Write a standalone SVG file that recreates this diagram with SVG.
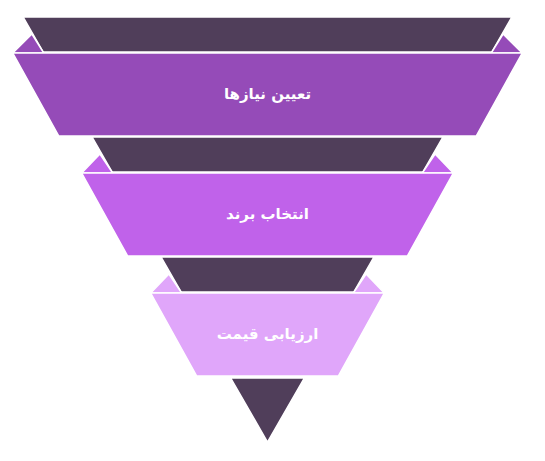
<svg xmlns="http://www.w3.org/2000/svg" width="545" height="461" viewBox="0 0 545 461">
<style>
.dark{fill:#503e5a;stroke:#ffffff;stroke-width:1.5;stroke-linejoin:miter}
.s{stroke:#ffffff;stroke-width:1.5;stroke-linejoin:miter}
.b1{fill:#954bb8}
.b2{fill:#c062ea}
.b3{fill:#e0a6fa}
.t{font-family:"DejaVu Sans",sans-serif;font-weight:bold;font-size:15px;fill:#ffffff;text-anchor:middle;dominant-baseline:central}
</style>
<rect width="545" height="461" fill="#ffffff"/>
<g id="funnel-dark">
<polygon class="dark" points="23.2,17 511.8,17 491.8,52 43.2,52"/>
<polygon class="dark" points="92.1,137 442.9,137 422.8,172 112.2,172"/>
<polygon class="dark" points="161.1,257 373.9,257 353.8,292 181.2,292"/>
<polygon id="tip" class="dark" points="230.7,378 304.3,378 267.5,442"/>
</g>
<g id="node1">
<polygon class="s b1" points="12.8,53 31.9,34 43.8,53"/>
<polygon class="s b1" points="522.2,53 503.1,34 491.2,53"/>
<polygon class="s b1" points="12.8,53 522.2,53 476.2,136 58.8,136"/>
<text class="t" x="267.5" y="93.5">تعیین نیازها</text>
</g>
<g id="node2">
<polygon class="s b2" points="81.7,173 99.9,154 112.7,173"/>
<polygon class="s b2" points="453.3,173 435.1,154 422.3,173"/>
<polygon class="s b2" points="81.7,173 453.3,173 407.3,256 127.7,256"/>
<text class="t" x="267.5" y="213.5">انتخاب برند</text>
</g>
<g id="node3">
<polygon class="s b3" points="150.7,293 168.9,274 181.7,293"/>
<polygon class="s b3" points="384.3,293 366.1,274 353.3,293"/>
<polygon class="s b3" points="150.7,293 384.3,293 338.3,376 196.7,376"/>
<text class="t" x="267.5" y="333.5">ارزیابی قیمت</text>
</g>
<g id="connectors"></g>
</svg>
